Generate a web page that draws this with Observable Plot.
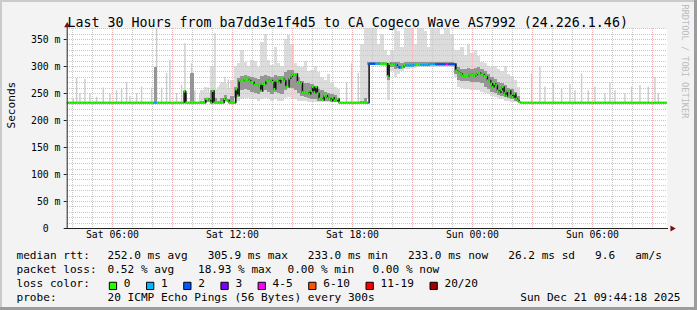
<!DOCTYPE html>
<html><head><meta charset="utf-8">
<script src="https://cdn.jsdelivr.net/npm/d3@7"></script>
<script src="https://cdn.jsdelivr.net/npm/@observablehq/plot@0.6"></script>
<style>html,body{margin:0;padding:0;background:#f3f3f3;} svg{display:block}</style>
</head><body><div id="chart"></div>
<script>
// ---------- data ----------
const titleText = "Last 30 Hours from ba7dd3e1f4d5 to CA Cogeco Wave AS7992 (24.226.1.46)";
const rangeStart = "2025-12-20T03:44:18Z";
const rangeEnd = "2025-12-21T09:44:18Z";
const sampleStart = "2025-12-20T03:45:00Z";
const sampleMinutes = 5;   // median / loss resolution
const bandMinutes = 10;    // smoke band resolution
const minRtt = 233;

// median rtt (ms), one value per 5-minute step
const median = [
233,233,233,233,233,233,233,233,233,233,
233,233,233,233,233,233,233,233,233,233,
233,233,233,233,233,233,233,233,233,233,
233,233,233,233,233,233,233,233,233,233,
233,233,233,233,233,233,233,233,233,233,
233,233,233,233,233,233,233,233,233,233,
233,233,233,233,233,233,233,233,233,233,
254,233,233,233,233,233,233,233,233,233,
233,233,233,240,240,237,233,255,233,233,
233,233,233,233,240,238,237,233,233,233,
233,258,246,274,274,274,276,276,276,274,
271,271,266,266,265,265,255,268,268,274,
274,273,274,271,258,274,274,270,277,277,
274,262,262,278,282,285,285,286,271,271,
269,252,252,252,252,249,255,262,252,262,
250,240,240,238,246,246,241,240,237,242,
237,237,240,233,233,233,233,233,233,233,
233,233,233,233,233,233,233,233,233,233,
233,305,305,305,305,305,305,305,305,305,
305,305,282,305,304,304,304,303,299,298,
298,299,302,302,302,302,302,302,303,303,
303,303,303,303,303,303,303,304,304,304,
304,304,304,304,304,304,304,304,304,304,
304,304,304,292,290,288,286,283,283,283,
283,285,285,284,283,285,288,288,285,285,
282,281,274,274,268,262,268,265,255,252,
257,262,250,246,255,255,246,243,249,240,
237,234,233,233,233,233,233,233,233,233,
233,233,233,233,233,233,233,233,233,233,
233,233,233,233,233,233,233,233,233,233,
233,233,233,233,233,233,233,233,233,233,
233,233,233,233,233,233,233,233,233,233,
233,233,233,233,233,233,233,233,233,233,
233,233,233,233,233,233,233,233,233,233,
233,233,233,233,233,233,233,233,233,233,
233,233,233,233,233,233,233,233,233,233
];

// lost pings (of 20) for the 5-minute steps that had any loss
const lossSlots = [52,53,180,181,182,183,184,185,186,187,197,198,199,200,203,204,205,206,207,208,
  212,213,214,215,216,217,218,219,220,221,222,223,224,225,226,227,228,229,230,231,232];
const lossCount = [1,1,1,2,2,2,2,1,1,1,1,1,2,1,1,1,1,1,1,1,
  1,1,1,1,1,1,1,1,1,2,2,2,2,2,2,4,4,2,2,2,2];

// smoke: min, lower, upper, max ping (ms), one value per 10-minute step
const bandLo = [
233,233,233,233,233,233,233,233,233,233,
233,233,233,233,233,233,233,233,233,233,
233,233,233,233,233,233,233,233,233,233,
233,233,233,233,233,233,233,233,233,233,
233,233,233,233,233,233,233,233,233,233,
234,236,238,240,240,238,238,236,238,240,
238,236,238,236,236,240,242,240,238,236,
235,235,234,234,234,233,233,233,233,233,
233,233,233,233,233,233,233,233,233,233,
240,302,302,302,300,300,237,290,280,285,
290,295,295,296,296,298,298,298,298,299,
299,298,298,299,299,298,280,262,260,258,
258,256,255,255,252,250,248,245,242,240,
238,236,235,234,233,233,233,233,233,233,
233,233,233,233,233,233,233,233,233,233,
233,233,233,233,233,233,233,233,233,233,
233,233,233,233,233,233,233,233,233,233,
233,233,233,233,233,233,233,233,233,233
];
const bandQ1 = [
233,233,233,233,233,233,233,233,233,233,
233,233,233,233,233,233,233,233,233,233,
233,233,233,233,233,233,233,233,233,233,
233,233,233,233,233,233,233,233,233,233,
233,233,233,234,233,233,234,235,233,234,
240,246,255,258,255,252,250,248,252,255,
252,248,252,250,248,255,262,260,255,250,
245,242,240,238,238,236,236,235,235,234,
234,233,233,233,233,233,233,233,233,233,
302,303,303,303,302,302,275,298,295,296,
298,300,301,301,301,302,302,302,302,302,
302,302,302,303,303,302,285,275,272,272,
272,270,270,270,268,262,258,252,250,247,
244,242,240,238,236,234,233,233,233,233,
233,233,233,233,233,233,233,233,233,233,
233,233,233,233,233,233,233,233,233,233,
233,233,233,233,233,233,233,233,233,233,
233,233,233,233,233,233,233,233,233,233
];
const bandQ3 = [
233,233,233,233,233,233,233,233,233,233,
233,233,233,233,233,233,233,233,233,233,
233,233,233,233,233,233,299,233,233,233,
233,233,233,233,233,250,233,287,233,233,
236,240,238,255,240,236,240,246,238,245,
262,278,282,284,282,280,278,276,282,284,
282,280,284,282,282,288,292,292,286,280,
272,268,268,266,262,258,255,252,250,248,
246,240,233,233,233,233,233,233,236,240,
307,308,308,307,308,307,306,307,308,307,
306,307,307,307,307,307,308,308,308,308,
308,308,308,308,308,308,305,298,295,295,
296,295,296,298,295,290,285,280,276,270,
268,264,260,258,252,245,233,233,233,233,
233,233,233,233,233,233,233,233,233,233,
233,233,233,233,233,233,233,233,233,233,
233,233,233,233,233,233,233,233,233,233,
233,233,233,233,233,233,233,233,233,233
];
const bandHi = [
233,233,233,233,233,233,233,233,233,233,
233,233,233,233,233,233,233,233,233,233,
233,233,233,233,233,233,299,233,233,233,
233,233,233,233,233,250,233,287,233,233,
255,262,250,300,258,262,270,268,258,275,
300,305,330,308,300,312,310,298,345,360,
312,302,335,305,300,350,357,340,305,300,
298,310,290,292,300,288,280,275,285,268,
262,258,233,233,233,233,233,233,340,370,
370,370,370,340,360,330,320,330,370,365,
335,370,370,370,340,370,370,365,335,370,
370,370,360,370,370,360,330,330,335,320,
340,325,330,318,308,305,300,298,300,295,
290,300,285,282,275,262,233,233,233,233,
233,233,233,233,233,233,233,233,233,233,
233,233,233,233,233,233,233,233,233,233,
233,233,233,233,233,233,233,233,233,233,
233,233,233,233,233,233,233,233,233,233
];

// isolated single-sample smoke spikes in quiet periods (5-minute step, max ms)
const spikeSlots = [3,5,7,10,13,17,21,25,29,32,35,37,41,44,50,53,56,59,61,65,68,70,74,76,79,82,84,88,91,94,96,
  167,170,174,177,
  278,283,286,291,296,301,304,308,312,316,322,325,328,334,338,343,348,352,354];
const spikeMax = [240,278,250,276,250,243,260,248,255,258,270,245,250,262,260,370,260,287,311,250,265,342,305,255,248,250,260,361,265,280,275,
  270,305,287,286,
  286,299,262,270,258,267,255,286,255,262,250,270,255,250,262,265,262,280,250];

const xTickTimes = ["2025-12-20T06:00:00Z","2025-12-20T12:00:00Z","2025-12-20T18:00:00Z","2025-12-21T00:00:00Z","2025-12-21T06:00:00Z"];
const xTickLabels = ["Sat 06:00","Sat 12:00","Sat 18:00","Sun 00:00","Sun 06:00"];
const yTickValues = [0,50,100,150,200,250,300,350];
const yTickLabels = ["0  ","50 m","100 m","150 m","200 m","250 m","300 m","350 m"];

const lossLabels = ["0","1","2","3","4-5","6-10","11-19","20/20"];
const lossUpper  = [0,1,2,3,5,10,19,20];
const lossColors = ["#26ff00","#00b8ff","#0059ff","#7e00ff","#ff00ff","#ff5500","#ff0000","#a10000"];

const statLabels = ["median rtt:","packet loss:","loss color:","probe:"];
const rttStats = "252.0 ms avg   305.9 ms max   233.0 ms min   233.0 ms now   26.2 ms sd   9.6   am/s";
const lossStats = ["0.52 % avg","18.93 % max","0.00 % min","0.00 % now"];
const probeText = "20 ICMP Echo Pings (56 Bytes) every 300s";
const stampText = "Sun Dec 21 09:44:18 2025";
const yLabel = "Seconds";
const watermark = "RRDTOOL / TOBI OETIKER";

// ---------- build ----------
const MIN = 60000;
const t0 = new Date(sampleStart).getTime();
const start = new Date(rangeStart), end = new Date(rangeEnd);
const colorOf = n => lossColors[lossUpper.findIndex(u => n <= u)];
const medData = median.map((v, j) => ({
  a: new Date(t0 + j * sampleMinutes * MIN),
  b: new Date(t0 + (j + 1) * sampleMinutes * MIN), v, loss: 0}));
lossSlots.forEach((j, i) => { medData[j].loss = lossCount[i]; });
const bandData = bandLo.map((lo, k) => ({
  a: new Date(t0 + k * bandMinutes * MIN),
  b: new Date(t0 + (k + 1) * bandMinutes * MIN),
  lo, q1: bandQ1[k], q3: bandQ3[k], hi: bandHi[k]}));
const lightBand = bandData.filter(d => d.hi > d.lo);
const midBand = bandData.filter(d => d.q3 > d.q1);
const spikes = spikeSlots.map((j, i) => ({t: new Date(t0 + (j + 0.5) * sampleMinutes * MIN), v: spikeMax[i]}));

const hours = d3.utcHour.range(d3.utcHour.ceil(start), end);
const xMinor = hours.filter(d => d.getUTCHours() % 3 !== 0);
const xMajor = hours.filter(d => d.getUTCHours() % 3 === 0);
const yMinor = d3.range(10, 371, 10).filter(v => v % 50 !== 0);
const yMajor = d3.range(50, 351, 50);

const MONO = "DejaVu Sans Mono";
const nb = s => s.replace(/ /g, "\u00a0");
const gridMinor = {stroke: "#c8c8c8", strokeDasharray: "1,1", shapeRendering: "crispEdges"};
const gridMajor = {stroke: "#f0b2b2", strokeDasharray: "1,1", shapeRendering: "crispEdges"};
const legendFont = {fontFamily: MONO, fontSize: 11.1, fill: "#000", textAnchor: "start", frameAnchor: "bottom-left"};
const rowDy = [30.7, 44.5, 58.3, 72.1];
const left = 66.7;

const marks = [
  Plot.frame({fill: "white", stroke: null}),
  Plot.ruleX(spikes, {x: "t", y1: minRtt, y2: "v", stroke: "#cbcbcb", strokeWidth: 1.4}),
  Plot.rect(lightBand, {x1: "a", x2: "b", y1: "lo", y2: "hi", fill: "#dcdcdc", shapeRendering: "crispEdges"}),
  Plot.ruleY(yMinor, gridMinor),
  Plot.ruleX(xMinor, gridMinor),
  Plot.ruleY(yMajor, gridMajor),
  Plot.ruleX(xMajor, gridMajor),
  Plot.rect(midBand, {x1: "a", x2: "b", y1: "q1", y2: "q3", fill: "#8a8a8a", fillOpacity: 0.85, shapeRendering: "crispEdges"}),
  Plot.line(medData, {x: "a", y: "v", curve: "step-after", stroke: "#111", strokeWidth: 1.5}),
  Plot.ruleY(medData, {y: "v", x1: "a", x2: "b", stroke: d => colorOf(d.loss), strokeWidth: 2.4}),
  // axes
  Plot.ruleY([0], {x1: new Date(start - 6 * MIN), x2: new Date(+end + 4 * MIN), stroke: "#222"}),
  Plot.ruleX([start], {y1: 0, y2: 372, stroke: "#222"}),
  Plot.ruleY(yTickValues, {x1: new Date(start - 9 * MIN), x2: start, stroke: "#222"}),
  Plot.dot([0], {x: new Date(+end + 15 * MIN), y: 0, symbol: "triangle", rotate: 90, r: 2.3, fill: "#7a0f0f", stroke: null}),
  Plot.dot([0], {x: start, y: 376, symbol: "triangle", r: 2.3, fill: "#7a0f0f", stroke: null}),
  Plot.text(xTickTimes.map((t, i) => ({t: new Date(t), s: xTickLabels[i]})),
    {x: "t", text: "s", frameAnchor: "bottom", dy: 9.3, fontFamily: MONO, fontSize: 9.8, fill: "#000"}),
  Plot.text(yTickValues.map((v, i) => ({v, s: nb(yTickLabels[i])})),
    {y: "v", text: "s", frameAnchor: "left", dx: -6.7, textAnchor: "end", fontFamily: MONO, fontSize: 9.8, fill: "#000"}),
  Plot.text([yLabel], {text: d => d, frameAnchor: "left", dx: 11 - left, rotate: -90, fontFamily: MONO, fontSize: 11.1, fill: "#000"}),
  Plot.text([titleText], {text: d => d, frameAnchor: "top", dx: -19.5, dy: -11, fontFamily: MONO, fontSize: 13.3, fill: "#000"}),
  Plot.text([watermark], {text: d => d, frameAnchor: "top-right", dx: 21.3, dy: -24, rotate: 90, textAnchor: "start", fontFamily: MONO, fontSize: 8.6, fill: "#bdbdbd"}),
  // legend rows
  ...statLabels.map((s, i) => Plot.text([nb(s)], {...legendFont, text: d => d, dx: 16 - left, dy: rowDy[i]})),
  Plot.text([nb(rttStats)], {...legendFont, text: d => d, dx: 107 - left, dy: rowDy[0]}),
  ...lossStats.map((s, i) => Plot.text([nb(s)], {...legendFont, text: d => d, dx: [107, 197.5, 287, 372][i] - left, dy: rowDy[1]})),
  Plot.text([nb(probeText)], {...legendFont, text: d => d, dx: 107 - left, dy: rowDy[3]}),
  Plot.text([nb(stampText)], {...legendFont, text: d => d, frameAnchor: "bottom-right", textAnchor: "end", dx: 680 - 666.7, dy: rowDy[3]})
];
let bx = 108.3;
lossLabels.forEach((lab, i) => {
  marks.push(Plot.dot([0], {frameAnchor: "bottom-left", dx: bx + 4.15 - left, dy: rowDy[2] - 0.9, symbol: "square", r: 4.1,
    fill: lossColors[i], stroke: "#000", strokeWidth: 1}));
  marks.push(Plot.text([lab], {...legendFont, text: d => d, dx: bx + 15 - left, dy: rowDy[2]}));
  bx += 15 + lab.length * 6.7 + 15.5;
});

const chart = Plot.plot({
  width: 697, height: 310,
  marginLeft: left, marginRight: 697 - 666.7, marginTop: 28, marginBottom: 82,
  x: {type: "utc", domain: [start, end], axis: null},
  y: {domain: [0, 200 / 0.54], axis: null},
  style: "background:#f3f3f3;font-family:'DejaVu Sans Mono';box-shadow: inset -3px -3px 0 #9c9c9c, inset 2px 2px 0 #cbcbcb;max-width:none;",
  marks
});
document.getElementById("chart").appendChild(chart);
</script>
</body></html>
